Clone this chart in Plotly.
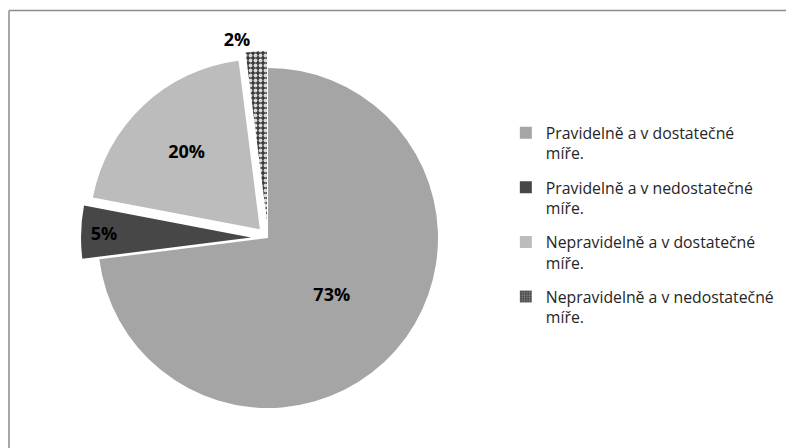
import plotly.graph_objects as go

categories = [
    "Pravidelně a v dostatečné míře.",
    "Pravidelně a v nedostatečné míře.",
    "Nepravidelně a v dostatečné míře.",
    "Nepravidelně a v nedostatečné míře.",
]
values = [73, 5, 20, 2]
colors = ["#a5a5a5", "#474747", "#bcbcbc", "#3c3c3c"]
patterns = ["", "", "", "."]
pulls = [0, 0.1, 0.07, 0.1]

legend_labels = [c.replace(" míře.", "<br>míře.") for c in categories]

FONT = "Open Sans"

fig = go.Figure()
fig.add_trace(go.Pie(
    labels=legend_labels,
    values=values,
    sort=False,
    direction="clockwise",
    rotation=0,
    pull=pulls,
    marker=dict(
        colors=colors,
        line=dict(width=0),
        pattern=dict(shape=patterns, fgcolor="#d8d8d8",
                     bgcolor=colors, size=5, solidity=0.45),
    ),
    texttemplate="%{percent:.0%}",
    textposition=["inside", "inside", "inside", "outside"],
    insidetextorientation="horizontal",
    textfont=dict(family=FONT, size=18, color="black", weight="bold"),
    domain=dict(x=[0.0919, 0.563], y=[0.0692, 0.904]),
    hoverinfo="label+percent",
    showlegend=False,
))

# legend entries (one group per category so the spacing can be set)
for lab, col, pat in zip(legend_labels, colors, patterns):
    fig.add_trace(go.Bar(
        x=[None], y=[None], name=lab, legendgroup=lab,
        marker=dict(color=col, line=dict(width=0),
                    pattern=dict(shape=pat, fgcolor="#d8d8d8", bgcolor=col,
                                 size=3, solidity=0.45)),
        showlegend=True, hoverinfo="skip",
    ))

fig.update_layout(
    width=794, height=448,
    margin=dict(l=0, r=0, t=0, b=0, autoexpand=False),
    paper_bgcolor="white",
    plot_bgcolor="white",
    font=dict(family=FONT, size=15.8, color="#262626"),
    xaxis=dict(visible=False),
    yaxis=dict(visible=False),
    legend=dict(
        x=0.627, y=0.7589, xanchor="left", yanchor="top",
        valign="top", font=dict(family=FONT, size=15.8, color="#262626"),
        itemwidth=30, tracegroupgap=10.5,
    ),
    shapes=[
        dict(type="line", xref="paper", yref="paper",
             x0=1 / 794, x1=1 / 794, y0=0, y1=1 - 2.5 / 448,
             line=dict(color="#8c8c8c", width=1.5)),
        dict(type="line", xref="paper", yref="paper",
             x0=1 / 794, x1=1, y0=1 - 2.5 / 448, y1=1 - 2.5 / 448,
             line=dict(color="#8c8c8c", width=1.5)),
    ],
)

fig.write_html("out.html")
